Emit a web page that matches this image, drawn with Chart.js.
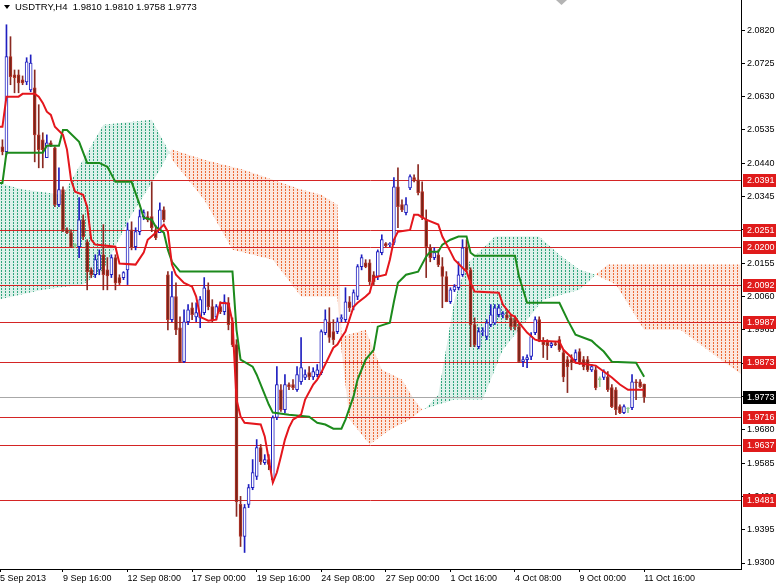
<!DOCTYPE html>
<html>
<head>
<meta charset="utf-8">
<title>USDTRY,H4</title>
<script src="https://cdn.jsdelivr.net/npm/chart.js@4.4.1/dist/chart.umd.min.js"></script>
<style>
  html, body { margin: 0; padding: 0; background: #fff; }
  #c { display: block; }
</style>
</head>
<body>
<canvas id="c" width="776" height="585"></canvas>
<script>
// H4 candles, first bar is 5 Sep 2013 00:00 (index -1), last is 11 Oct 16:00 (index 159)
const firstBar = -1;
const openP = [
  2.0480, 2.0487, 2.0473, 2.0744, 2.0692, 2.0692, 2.0678, 2.0672, 2.0649, 2.0655,
  2.0521, 2.0507, 2.0456, 2.0498, 2.0484, 2.0322, 2.0365, 2.0250, 2.0242, 2.0205,
  2.0202, 2.0279, 2.0216, 2.0136, 2.0122, 2.0136, 2.0179, 2.0136, 2.0122, 2.0171,
  2.0114, 2.0114, 2.0136, 2.0250, 2.0202, 2.0245, 2.0288, 2.0288, 2.0288, 2.0250,
  2.0242, 2.0307, 2.0122, 1.9994, 2.0060, 1.9971, 1.9874, 1.9988, 2.0028, 2.0002,
  1.9999, 2.0014, 2.0079, 2.0031, 2.0002, 2.0031, 2.0017, 2.0042, 1.9985, 1.9923,
  1.9467, 1.9376, 1.9467, 1.9515, 1.9547, 1.9629, 1.9586, 1.9595, 1.9538, 1.9715,
  1.9794, 1.9737, 1.9809, 1.9809, 1.9794, 1.9817, 1.9829, 1.9843, 1.9831, 1.9837,
  1.9843, 1.9957, 1.9988, 1.9960, 1.9960, 1.9997, 1.9994, 2.0045, 2.0031, 2.0060,
  2.0145, 2.0156, 2.0156, 2.0122, 2.0117, 2.0185, 2.0211, 2.0208, 2.0214, 2.0373,
  2.0322, 2.0299, 2.0370, 2.0399, 2.0393, 2.0359, 2.0279, 2.0199, 2.0171, 2.0179,
  2.0145, 2.0117, 2.0045, 2.0079, 2.0085, 2.0122, 2.0202, 2.0136, 1.9980, 1.9917,
  1.9960, 1.9946, 1.9980, 1.9985, 2.0008, 2.0008, 2.0008, 1.9999, 1.9994, 1.9974,
  1.9874, 1.9880, 1.9889, 1.9957, 1.9994, 1.9931, 1.9929, 1.9920, 1.9926, 1.9937,
  1.9900, 1.9880, 1.9880, 1.9880, 1.9903, 1.9880, 1.9880, 1.9851, 1.9851, 1.9823,
  1.9829, 1.9831, 1.9800, 1.9794, 1.9746, 1.9729, 1.9740, 1.9743, 1.9817, 1.9817,
  1.9810
];
const highP = [
  2.0510, 2.0507, 2.0835, 2.0801, 2.0706, 2.0706, 2.0689, 2.0741, 2.0749, 2.0706,
  2.0607, 2.0527, 2.0521, 2.0504, 2.0487, 2.0427, 2.0373, 2.0256, 2.0250, 2.0211,
  2.0342, 2.0293, 2.0222, 2.0142, 2.0179, 2.0193, 2.0265, 2.0171, 2.0179, 2.0179,
  2.0122, 2.0131, 2.0270, 2.0273, 2.0256, 2.0307, 2.0307, 2.0302, 2.0387, 2.0262,
  2.0327, 2.0316, 2.0131, 2.0131, 2.0099, 2.0002, 2.0022, 2.0037, 2.0042, 2.0042,
  2.0060, 2.0114, 2.0099, 2.0051, 2.0037, 2.0045, 2.0065, 2.0057, 1.9999, 1.9937,
  1.9490, 1.9467, 1.9524, 1.9595, 1.9652, 1.9638, 1.9609, 1.9609, 1.9720, 1.9860,
  1.9809, 1.9837, 1.9814, 1.9823, 1.9860, 1.9943, 1.9851, 1.9860, 1.9857, 1.9866,
  1.9965, 2.0022, 2.0028, 1.9994, 1.9999, 2.0008, 2.0085, 2.0060, 2.0079, 2.0151,
  2.0179, 2.0165, 2.0165, 2.0131, 2.0193, 2.0236, 2.0214, 2.0214, 2.0399, 2.0427,
  2.0336, 2.0342, 2.0407, 2.0407, 2.0436, 2.0387, 2.0307, 2.0208, 2.0199, 2.0193,
  2.0171, 2.0131, 2.0085, 2.0094, 2.0159, 2.0222, 2.0222, 2.0142, 1.9999, 1.9971,
  1.9971, 1.9994, 2.0037, 2.0037, 2.0037, 2.0017, 2.0017, 2.0008, 2.0005, 1.9985,
  1.9889, 1.9894, 1.9957, 2.0002, 2.0002, 1.9943, 1.9937, 1.9931, 1.9931, 1.9946,
  1.9908, 1.9889, 1.9894, 1.9908, 1.9911, 1.9889, 1.9889, 1.9866, 1.9860, 1.9831,
  1.9851, 1.9846, 1.9809, 1.9800, 1.9751, 1.9751, 1.9743, 1.9837, 1.9823, 1.9823,
  1.9810
];
const lowP = [
  2.0450, 2.0464, 2.0464, 2.0664, 2.0641, 2.0641, 2.0664, 2.0664, 2.0644, 2.0444,
  2.0427, 2.0427, 2.0456, 2.0487, 2.0316, 2.0316, 2.0245, 2.0239, 2.0199, 2.0199,
  2.0171, 2.0222, 2.0079, 2.0114, 2.0114, 2.0122, 2.0079, 2.0079, 2.0114, 2.0079,
  2.0094, 2.0108, 2.0094, 2.0193, 2.0193, 2.0236, 2.0279, 2.0273, 2.0245, 2.0222,
  2.0242, 2.0273, 1.9965, 1.9988, 1.9951, 1.9871, 1.9871, 1.9980, 1.9994, 1.9988,
  1.9971, 2.0008, 2.0022, 1.9988, 1.9994, 2.0011, 2.0008, 1.9965, 1.9917, 1.9433,
  1.9347, 1.9330, 1.9458, 1.9509, 1.9538, 1.9581, 1.9581, 1.9566, 1.9529, 1.9709,
  1.9732, 1.9729, 1.9794, 1.9794, 1.9789, 1.9809, 1.9823, 1.9823, 1.9823, 1.9831,
  1.9837, 1.9951, 1.9929, 1.9923, 1.9954, 1.9988, 1.9988, 2.0017, 2.0022, 2.0051,
  2.0136, 2.0142, 2.0094, 2.0094, 2.0108, 2.0179, 2.0202, 2.0202, 2.0208, 2.0256,
  2.0302, 2.0293, 2.0365, 2.0387, 2.0350, 2.0279, 2.0114, 2.0159, 2.0165, 2.0145,
  2.0028, 2.0045, 2.0040, 2.0074, 2.0079, 2.0117, 2.0131, 1.9917, 1.9917, 1.9911,
  1.9948, 1.9937, 1.9974, 1.9980, 2.0002, 1.9999, 1.9994, 1.9965, 1.9965, 1.9871,
  1.9860, 1.9857, 1.9880, 1.9951, 1.9931, 1.9886, 1.9880, 1.9914, 1.9920, 1.9903,
  1.9817, 1.9786, 1.9851, 1.9871, 1.9866, 1.9851, 1.9846, 1.9846, 1.9794, 1.9803,
  1.9823, 1.9789, 1.9743, 1.9723, 1.9726, 1.9726, 1.9729, 1.9737, 1.9766, 1.9800,
  1.9758
];
const closeP = [
  2.0490, 2.0473, 2.0744, 2.0687, 2.0684, 2.0669, 2.0669, 2.0729, 2.0726, 2.0521,
  2.0479, 2.0479, 2.0498, 2.0490, 2.0322, 2.0365, 2.0250, 2.0242, 2.0202, 2.0205,
  2.0279, 2.0231, 2.0131, 2.0122, 2.0165, 2.0179, 2.0122, 2.0119, 2.0171, 2.0099,
  2.0099, 2.0128, 2.0250, 2.0199, 2.0245, 2.0288, 2.0299, 2.0279, 2.0256, 2.0228,
  2.0307, 2.0279, 1.9994, 2.0060, 1.9965, 1.9874, 1.9988, 2.0022, 2.0008, 2.0014,
  2.0051, 2.0085, 2.0031, 1.9994, 2.0031, 2.0017, 2.0045, 1.9980, 1.9923, 1.9475,
  1.9376, 1.9458, 1.9515, 1.9558, 1.9629, 1.9589, 1.9595, 1.9581, 1.9715, 1.9809,
  1.9737, 1.9809, 1.9803, 1.9800, 1.9837, 1.9857, 1.9837, 1.9831, 1.9846, 1.9851,
  1.9960, 1.9994, 1.9943, 1.9937, 1.9988, 1.9999, 2.0045, 2.0028, 2.0071, 2.0145,
  2.0171, 2.0145, 2.0102, 2.0102, 2.0188, 2.0222, 2.0205, 2.0211, 2.0373, 2.0316,
  2.0307, 2.0322, 2.0402, 2.0393, 2.0356, 2.0285, 2.0202, 2.0171, 2.0185, 2.0151,
  2.0117, 2.0045, 2.0079, 2.0088, 2.0122, 2.0199, 2.0136, 1.9980, 1.9923, 1.9960,
  1.9963, 1.9985, 2.0008, 2.0028, 2.0028, 2.0011, 1.9999, 1.9974, 1.9974, 1.9874,
  1.9880, 1.9886, 1.9946, 1.9994, 1.9937, 1.9923, 1.9920, 1.9926, 1.9923, 1.9908,
  1.9831, 1.9860, 1.9871, 1.9900, 1.9871, 1.9860, 1.9851, 1.9860, 1.9800, 1.9823,
  1.9846, 1.9794, 1.9746, 1.9737, 1.9729, 1.9746, 1.9740, 1.9817, 1.9814, 1.9803,
  1.9773
];

// Ichimoku lines (bar index, price)
const tenkanBars = [-1, 0, 1, 4, 5, 8, 9, 10, 11, 12, 13, 15, 16, 17, 18, 20, 21, 22, 23, 28,
  29, 33, 35, 36, 38, 40, 41, 42, 43, 45, 47, 48, 49, 51, 53, 54, 56, 57, 58, 59,
  60, 64, 65, 66, 67, 68, 69, 70, 71, 72, 74, 75, 77, 78, 79, 82, 83, 84, 85, 87,
  88, 90, 91, 92, 95, 96, 97, 98, 101, 102, 103, 105, 108, 109, 111, 112, 114, 115, 116, 117,
  123, 124, 126, 127, 128, 129, 130, 132, 133, 138, 139, 141, 142, 147, 149, 151, 153, 155, 159];
const tenkanVals = [2.0544, 2.0544, 2.0630, 2.0630, 2.0638, 2.0638, 2.0630, 2.0612, 2.0587, 2.0578,
  2.0544, 2.0521, 2.0479, 2.0393, 2.0359, 2.0350, 2.0316, 2.0222, 2.0208, 2.0202,
  2.0154, 2.0151, 2.0185, 2.0222, 2.0242, 2.0265, 2.0245, 2.0151, 2.0122, 2.0099,
  2.0088, 2.0060, 2.0002, 1.9991, 1.9994, 2.0042, 2.0040, 1.9988, 1.9766, 1.9718,
  1.9700, 1.9695, 1.9661, 1.9595, 1.9529, 1.9558, 1.9604, 1.9652, 1.9686, 1.9709,
  1.9723, 1.9766, 1.9809, 1.9823, 1.9843, 1.9914, 1.9923, 1.9943, 1.9960, 2.0031,
  2.0042, 2.0060, 2.0071, 2.0114, 2.0122, 2.0165, 2.0222, 2.0245, 2.0250, 2.0293,
  2.0293, 2.0279, 2.0265, 2.0231, 2.0188, 2.0165, 2.0142, 2.0131, 2.0099, 2.0074,
  2.0071, 2.0037, 2.0008, 2.0002, 1.9985, 1.9971, 1.9957, 1.9937, 1.9934, 1.9931,
  1.9908, 1.9886, 1.9871, 1.9863, 1.9846, 1.9829, 1.9809, 1.9794, 1.9794];

const kijunBars = [-1, 0, 1, 10, 11, 14, 15, 16, 19, 21, 24, 26, 28, 32, 34, 35, 37, 38, 40, 41,
  42, 44, 57, 58, 59, 62, 63, 65, 66, 67, 71, 76, 78, 80, 82, 84, 85, 87, 88, 90,
  92, 93, 96, 97, 98, 100, 103, 105, 106, 108, 109, 111, 113, 115, 116, 117, 127, 128, 130, 138,
  140, 142, 146, 147, 149, 151, 157, 158, 159];
const kijunVals = [2.0384, 2.0384, 2.0470, 2.0470, 2.0490, 2.0490, 2.0535, 2.0535, 2.0501, 2.0441,
  2.0441, 2.0430, 2.0387, 2.0387, 2.0322, 2.0285, 2.0279, 2.0259, 2.0242, 2.0193,
  2.0159, 2.0131, 2.0131, 1.9965, 1.9880, 1.9860, 1.9837, 1.9780, 1.9752, 1.9729,
  1.9723, 1.9717, 1.9700, 1.9695, 1.9683, 1.9683, 1.9709, 1.9775, 1.9823, 1.9880,
  1.9908, 1.9974, 1.9985, 2.0045, 2.0099, 2.0122, 2.0131, 2.0174, 2.0188, 2.0188,
  2.0208, 2.0222, 2.0231, 2.0231, 2.0185, 2.0176, 2.0176, 2.0117, 2.0042, 2.0042,
  1.9994, 1.9951, 1.9934, 1.9923, 1.9903, 1.9874, 1.9871, 1.9851, 1.9831];

// Senkou spans (already shifted 26 bars ahead)
const spanABars = [-1, 5, 15, 20, 25, 37, 41, 41.5, 42, 50, 57, 67, 74, 83, 84, 86, 91, 96, 101, 104,
  105, 108, 112, 115, 122, 133, 138, 143, 147, 152, 159, 168, 178, 185];
const spanAVals = [2.0384, 2.0365, 2.0350, 2.0450, 2.0550, 2.0564, 2.0479, 2.0470, 2.0450, 2.0336,
  2.0193, 2.0165, 2.0060, 2.0060, 1.9908, 1.9709, 1.9638, 1.9680, 1.9709, 1.9737,
  1.9743, 1.9780, 2.0051, 2.0151, 2.0231, 2.0231, 2.0179, 2.0136, 2.0122, 2.0094,
  1.9965, 1.9965, 1.9880, 1.9823];
const spanBBars = [-1, 10, 20, 25, 32, 39, 41, 41.5, 42, 50, 60, 67, 74, 79, 83, 84, 90, 94, 99, 102,
  104, 108, 112, 119, 124, 134, 143, 147, 150, 155, 185];
const spanBVals = [2.0051, 2.0079, 2.0094, 2.0136, 2.0293, 2.0421, 2.0464, 2.0470, 2.0479, 2.0450,
  2.0421, 2.0393, 2.0365, 2.0350, 2.0322, 1.9946, 1.9965, 1.9851, 1.9823, 1.9766,
  1.9737, 1.9752, 1.9766, 1.9766, 1.9908, 2.0051, 2.0079, 2.0122, 2.0151, 2.0151,
  2.0151];
// bars where span A crosses span B (cloud starts green)
const cloudFlipBars = [41.5, 104, 147];

// horizontal levels drawn on the chart
const levels = [2.0391, 2.0251, 2.0200, 2.0092, 1.9987, 1.9873, 1.9716, 1.9637, 1.9481];
const bidPrice = 1.9773;

// axes
const priceTicks = [2.0820, 2.0725, 2.0630, 2.0535, 2.0440, 2.0345, 2.0250, 2.0155, 2.0060, 1.9965,
  1.9870, 1.9775, 1.9680, 1.9585, 1.9490, 1.9395, 1.9300];
const timeBars = [-0.6, 15, 31, 47, 63, 79, 95, 111, 127, 143, 159];
const timeLabels = ['5 Sep 2013', '9 Sep 16:00', '12 Sep 08:00', '17 Sep 00:00', '19 Sep 16:00',
  '24 Sep 08:00', '27 Sep 00:00', '1 Oct 16:00', '4 Oct 08:00', '9 Oct 00:00', '11 Oct 16:00'];
const title = 'USDTRY,H4  1.9810 1.9810 1.9758 1.9773';

const FONT = 'Liberation Sans';
const canvas = document.getElementById('c');

const UP_CLOUD = '#2fa57c', DOWN_CLOUD = '#ec6a36';
const cloudAt = x => cloudFlipBars.filter(f => x >= f).length % 2 === 0 ? UP_CLOUD : DOWN_CLOUD;
const CLOUD_INDEX = 4;

const bars = openP.map((_, k) => firstBar + k);
const BULL = '#1f1fc0', BEAR_FILL = '#772419', BEAR_LINE = '#b8352a', DOJI = '#8fd08f';
const bodyFill = bars.map((_, k) => closeP[k] > openP[k] ? '#ffffff' : closeP[k] < openP[k] ? BEAR_FILL : DOJI);
const bodyLine = bars.map((_, k) => closeP[k] > openP[k] ? BULL : closeP[k] < openP[k] ? BEAR_LINE : DOJI);
const wickColor = bars.map((_, k) => closeP[k] > openP[k] ? BULL : closeP[k] < openP[k] ? '#8a2a22' : DOJI);

const overlay = {
  id: 'overlay',
  // after the cloud fill: thin it into MT4-style dots (keeping a faint tint), then the level lines
  afterDatasetDraw(chart, args) {
    if (args.index !== CLOUD_INDEX) return;
    const { ctx, chartArea: a, scales: { y } } = chart;
    ctx.save();
    ctx.fillStyle = 'rgba(255,255,255,0.84)';
    for (let x = Math.floor(a.left) - 2; x < a.right; x += 4) ctx.fillRect(x, a.top, 3, a.bottom - a.top);
    for (let yy = Math.floor(a.top) + 2; yy < a.bottom; yy += 3) {
      for (let x = Math.floor(a.left) + 1; x < a.right; x += 4) ctx.fillRect(x, yy, 1, 1);
    }

    ctx.lineWidth = 1;
    ctx.strokeStyle = '#a8a8a8';
    let py = Math.round(y.getPixelForValue(bidPrice)) + 0.5;
    ctx.beginPath(); ctx.moveTo(a.left, py); ctx.lineTo(a.right, py); ctx.stroke();
    ctx.strokeStyle = '#d42424';
    levels.forEach(v => {
      py = Math.round(y.getPixelForValue(v)) + 0.5;
      ctx.beginPath(); ctx.moveTo(a.left, py); ctx.lineTo(a.right, py); ctx.stroke();
    });
    ctx.restore();
  },
  afterDraw(chart) {
    const { ctx, chartArea: a, scales: { y } } = chart;
    ctx.save();
    ctx.font = '9px "' + FONT + '"';
    ctx.textBaseline = 'middle';
    ctx.textAlign = 'left';
    const tag = (v, bg) => {
      const py = Math.round(y.getPixelForValue(v));
      ctx.fillStyle = bg;
      ctx.fillRect(a.right + 2, py - 6, 776 - a.right - 2, 13);
      ctx.fillStyle = '#fff';
      ctx.fillText(v.toFixed(4), a.right + 6, py + 0.5);
    };
    levels.forEach(v => tag(v, '#e01b1b'));
    tag(bidPrice, '#000');

    // title with the little menu arrow
    ctx.fillStyle = '#000';
    ctx.beginPath(); ctx.moveTo(4, 5); ctx.lineTo(10, 5); ctx.lineTo(7, 9); ctx.closePath(); ctx.fill();
    ctx.font = '9.5px "' + FONT + '"';
    ctx.fillText(title, 15, 7);

    // chart shift marker
    ctx.fillStyle = '#b4b4b4';
    ctx.beginPath(); ctx.moveTo(556, 0); ctx.lineTo(567, 0); ctx.lineTo(561.5, 5); ctx.closePath(); ctx.fill();
    ctx.restore();
  }
};

new Chart(canvas, {
  type: 'bar',
  data: {
    datasets: [
      {
        type: 'line', label: 'Tenkan-sen', order: 0,
        data: tenkanBars.map((b, k) => ({ x: b, y: tenkanVals[k] })),
        borderColor: '#e4161c', borderWidth: 2, pointRadius: 0, tension: 0
      },
      {
        type: 'line', label: 'Kijun-sen', order: 0,
        data: kijunBars.map((b, k) => ({ x: b, y: kijunVals[k] })),
        borderColor: '#1c8a1c', borderWidth: 2, pointRadius: 0, tension: 0
      },
      {
        type: 'bar', label: 'Body', order: 1, grouped: false,
        data: bars.map((b, k) => ({ x: b, y: [openP[k], closeP[k]] })),
        backgroundColor: bodyFill, borderColor: bodyLine, borderWidth: 1,
        borderSkipped: false, barThickness: 3, minBarLength: 1
      },
      {
        type: 'bar', label: 'Wick', order: 2, grouped: false,
        data: bars.map((b, k) => ({ x: b, y: [lowP[k], highP[k]] })),
        backgroundColor: wickColor, barThickness: 1, minBarLength: 1
      },
      {
        type: 'line', label: 'Senkou A', order: 3,
        data: spanABars.map((b, k) => ({ x: b, y: spanAVals[k] })),
        borderColor: 'rgba(0,0,0,0)', borderWidth: 1, pointRadius: 0,
        backgroundColor: UP_CLOUD, fill: '+1',
        segment: { backgroundColor: c => cloudAt(c.p0.parsed.x) }
      },
      {
        type: 'line', label: 'Senkou B', order: 3,
        data: spanBBars.map((b, k) => ({ x: b, y: spanBVals[k] })),
        borderColor: 'rgba(0,0,0,0)', borderWidth: 1, pointRadius: 0, fill: false
      }
    ]
  },
  options: {
    responsive: false,
    animation: false,
    devicePixelRatio: 1,
    layout: { padding: 0 },
    plugins: { legend: { display: false }, tooltip: { enabled: false } },
    scales: {
      x: {
        type: 'linear', min: -0.6, max: 183, offset: false,
        grid: { drawOnChartArea: false, offset: false, tickLength: 3, color: '#000' },
        border: { display: true, color: '#000' },
        ticks: {
          autoSkip: false, maxRotation: 0, align: 'start', padding: 1, color: '#000',
          font: { family: FONT, size: 9 },
          callback: v => { const k = timeBars.indexOf(v); return k < 0 ? '' : timeLabels[k]; }
        },
        afterBuildTicks: s => { s.ticks = timeBars.map(v => ({ value: v })); },
        afterFit: s => { s.height = 16; s.paddingLeft = 0; s.paddingRight = 0; }
      },
      y: {
        type: 'linear', position: 'right', min: 1.92829, max: 2.09056,
        grid: { drawOnChartArea: false, tickLength: 4, color: '#000' },
        border: { display: true, color: '#000' },
        ticks: {
          padding: 2, color: '#000', font: { family: FONT, size: 9 },
          callback: v => v.toFixed(4)
        },
        afterBuildTicks: s => { s.ticks = priceTicks.map(v => ({ value: v })); },
        afterFit: s => { s.width = 35; s.paddingTop = 0; s.paddingBottom = 0; }
      }
    }
  },
  plugins: [overlay]
});
</script>
</body>
</html>
